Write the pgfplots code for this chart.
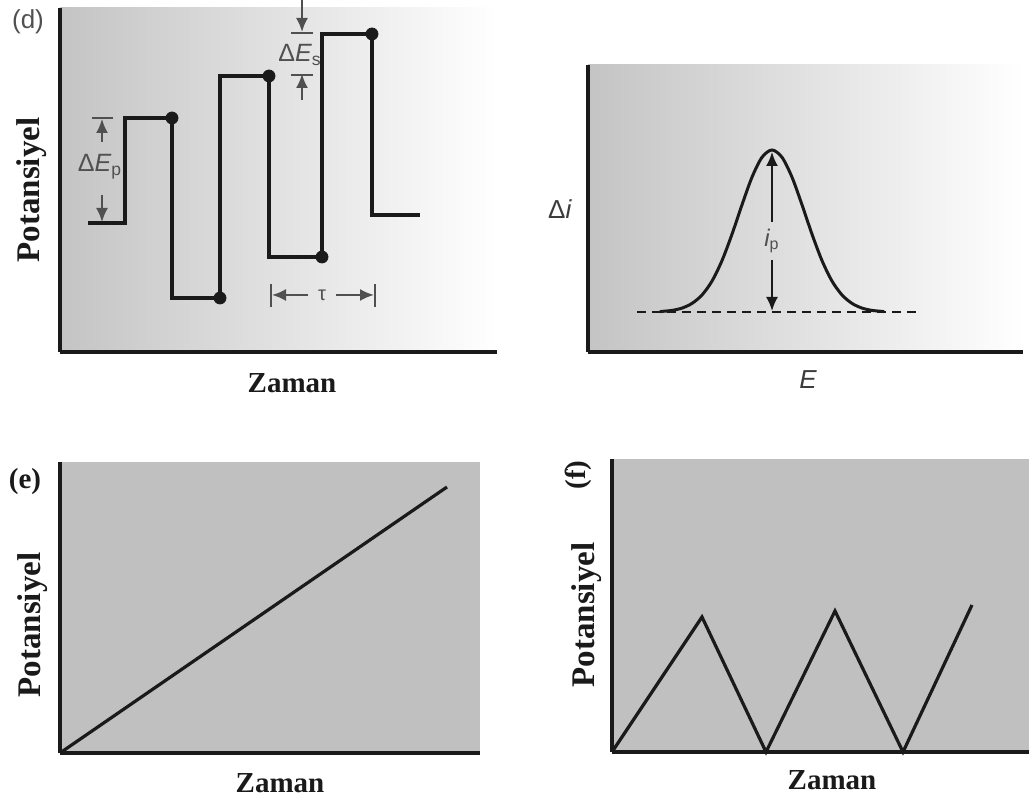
\documentclass[border=0pt]{standalone}
\usepackage{fontspec}
\setmainfont{Liberation Serif}
\setsansfont{Liberation Sans}
\usepackage{pgfplots}
\pgfplotsset{compat=1.18}
\usetikzlibrary{arrows.meta}
\definecolor{ink}{HTML}{1A1A1A}
\definecolor{annot}{HTML}{505050}
\definecolor{panelgray}{HTML}{C0C0C0}
\definecolor{fadegray}{HTML}{C4C4C4}

\pgfplotsset{
  panel/.style={scale only axis, anchor=south west,
    axis x line=bottom, axis y line=left,
    axis line style={-, line width=1.8pt, ink},
    xtick=\empty, ytick=\empty, clip=false},
}
\tikzset{
  big/.style={font=\fontsize{16.5}{18}\selectfont\bfseries, text=ink, inner sep=0pt},
  mid/.style={font=\fontsize{14.5}{16}\selectfont\bfseries, text=ink, inner sep=0pt},
  note/.style={font=\sffamily\fontsize{12.5}{14}\selectfont, text=annot, inner sep=0pt},
  bar/.style={line width=1.2pt, annot},
  arr/.style={line width=1pt, annot, -{Latex[length=7pt,width=6pt]}},
}

\begin{document}
\begin{tikzpicture}
\path[use as bounding box] (0,0) rectangle (514.5pt,401.5pt);

% (d) staircase potential
\begin{axis}[panel, at={(30pt,225.5pt)}, width=218.5pt, height=172pt,
  xmin=0, xmax=437, ymin=0, ymax=344,
  axis background/.style={left color=fadegray, right color=white}]
\addplot[ink, line width=1.6pt] coordinates {
 (28,129) (65,129) (65,234) (112,234) (112,54) (160,54) (160,276) (209,276)
 (209,95) (262,95) (262,318) (312,318) (312,137) (360,137)};
\addplot[only marks, mark=*, mark size=3pt, ink] coordinates {
 (112,234) (160,54) (209,276) (262,95) (312,318)};
% Delta E_p
\draw[bar] (32,234) -- (53,234);
\draw[arr] (42,210) -- (42,233);
\draw[arr] (42,157) -- (42,130);
\node[note] at (40,185) {Δ\textit{E}\textsubscript{p}};
% Delta E_s
\draw[bar] (231,319) -- (253,319);
\draw[bar] (231,277) -- (253,277);
\draw[arr] (242,352) -- (242,320);
\draw[arr] (242,252) -- (242,278);
\node[note] at (240,297) {Δ\textit{E}\textsubscript{s}};
% tau
\draw[bar] (211,45) -- (211,68);
\draw[bar] (315,45) -- (315,68);
\draw[arr] (248,57) -- (212,57);
\draw[arr] (276,57) -- (314,57);
\node[note, font=\sffamily\fontsize{10}{12}\selectfont] at (262,57) {τ};
\node[note, font=\sffamily\fontsize{13}{15}\selectfont] at (-32,330) {(d)};
\node[big, rotate=90] at (-28,162) {Potansiyel};
\node[mid] at (232,-31) {Zaman};
\end{axis}

% differential pulse response
\begin{axis}[panel, at={(294pt,225.5pt)}, width=217.5pt, height=143.5pt,
  xmin=0, xmax=435, ymin=0, ymax=287,
  axis background/.style={left color=fadegray, right color=white}]
\addplot[ink, line width=1.5pt, smooth] coordinates {
 (72,40.3) (74,40.6) (84,41.6) (94,43.9) (104,48.6) (114,57.0) (124,70.9)
 (134,91.4) (144,117.8) (154,147.2) (164,174.8) (174,194.7) (184,202)
 (194,194.7) (204,174.8) (214,147.2) (224,117.8) (234,91.4) (244,70.9)
 (254,57.0) (264,48.6) (274,43.9) (284,41.6) (294,40.6) (296,40.3)};
\addplot[ink, line width=1.2pt, dash pattern=on 4.5pt off 3pt] coordinates {(49,40) (330,40)};
\draw[arr, ink] (184,130) -- (184,200);
\draw[arr, ink] (184,92) -- (184,41);
\node[note, font=\sffamily\itshape\fontsize{12}{14}\selectfont] at (184,111) {i\textsubscript{\upshape p}};
\node[note, text=ink!85, font=\sffamily\fontsize{13}{15}\selectfont] at (-28,143) {Δ\textit{i}};
\node[note, text=ink!85, font=\sffamily\itshape\fontsize{13}{15}\selectfont] at (220,-28) {E};
\end{axis}

% (e) linear sweep
\begin{axis}[panel, at={(30pt,25pt)}, width=210pt, height=145.5pt,
  xmin=0, xmax=420, ymin=0, ymax=291,
  axis background/.style={fill=panelgray}]
\addplot[ink, line width=1.6pt] coordinates {(0,0) (387,266)};
\node[mid] at (-35,271) {(e)};
\node[big, rotate=90] at (-27,128) {Potansiyel};
\node[mid] at (220,-30) {Zaman};
\end{axis}

% (f) cyclic sweep
\begin{axis}[panel, at={(306pt,25.5pt)}, width=208.5pt, height=146.5pt,
  xmin=0, xmax=417, ymin=0, ymax=293,
  axis background/.style={fill=panelgray}]
\addplot[ink, line width=1.6pt] coordinates {
 (0,0) (90,135) (154,0) (223,141) (291,0) (360,147)};
\node[mid, rotate=90] at (-34,277) {(f)};
\node[big, rotate=90] at (-25,137) {Potansiyel};
\node[mid] at (220,-28) {Zaman};
\end{axis}
\end{tikzpicture}
\end{document}
